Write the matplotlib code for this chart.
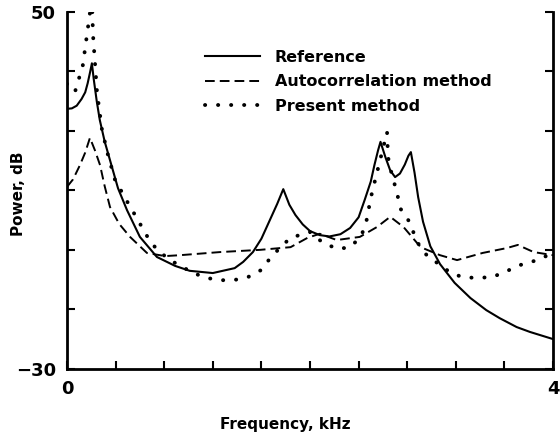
import matplotlib
matplotlib.use("Agg")
import matplotlib.pyplot as plt
import numpy as np

# Reference spectrum (solid)
ref_f = [0.0, 0.04, 0.08, 0.12, 0.15, 0.17, 0.19, 0.205, 0.22, 0.245, 0.27, 0.31, 0.354, 0.42,
         0.494, 0.60, 0.74, 0.89, 1.01, 1.20, 1.38, 1.45, 1.53, 1.60, 1.67, 1.73, 1.78,
         1.83, 1.88, 1.94, 2.0, 2.08, 2.16, 2.25, 2.33, 2.40, 2.45, 2.50, 2.53, 2.56, 2.58,
         2.62, 2.66, 2.70, 2.74, 2.78, 2.81, 2.83, 2.86, 2.89, 2.93, 2.99, 3.07, 3.19, 3.32,
         3.45, 3.56, 3.70, 3.81, 4.0]
ref_db = [28.3, 28.4, 29.0, 30.5, 32.0, 34.0, 36.5, 38.5, 35.0, 30.0, 25.8, 21.0, 16.8, 10.5,
          5.6, -0.4, -4.9, -6.9, -8.0, -8.5, -7.4, -6.0, -3.8, -0.8, 3.4, 7.0, 10.3,
          6.8, 4.5, 2.4, 0.9, 0.0, -0.3, 0.2, 1.6, 4.0, 7.9, 12.0, 15.7, 19.0, 20.9,
          17.5, 14.5, 13.0, 13.8, 15.8, 17.8, 18.6, 14.0, 8.5, 3.0, -2.5, -6.5, -10.7, -14.1,
          -16.8, -18.6, -20.6, -21.7, -23.3]

# Autocorrelation method (dashed)
ac_f = [0.0, 0.05, 0.107, 0.15, 0.189, 0.23, 0.272, 0.31, 0.354, 0.43, 0.519, 0.658, 0.807,
        0.93, 1.26, 1.59, 1.84, 1.98, 2.08, 2.22, 2.41, 2.55, 2.66, 2.77, 2.91, 3.07, 3.21,
        3.42, 3.62, 3.71, 3.84, 4.0]
ac_db = [10.8, 12.5, 15.7, 18.5, 21.8, 19.0, 15.7, 11.0, 6.3, 2.5, -0.4, -4.0, -4.7,
         -4.5, -3.8, -3.3, -2.7, -0.6, 0.3, -1.1, -0.4, 1.8, 4.1, 1.8, -2.7, -4.5, -5.6,
         -4.0, -2.9, -2.2, -3.8, -4.5]

# Present method (dotted)
pm_f = [0.0, 0.066, 0.13, 0.17, 0.205, 0.214, 0.247, 0.288, 0.337, 0.395, 0.502, 0.56, 0.667,
        0.741, 0.848, 1.04, 1.15, 1.26, 1.37, 1.49, 1.60, 1.66, 1.75, 1.84, 2.0, 2.11, 2.23,
        2.33, 2.41, 2.45, 2.48, 2.49, 2.52, 2.634, 2.642, 2.66, 2.68, 2.72, 2.74, 2.82, 2.88,
        2.96, 3.07, 3.15, 3.25, 3.37, 3.50, 3.60, 3.73, 3.87, 4.0]
pm_db = [33.9, 32.1, 38.0, 46.0, 53.0, 45.0, 32.1, 23.6, 18.0, 12.4, 7.2, 4.5, -0.6,
         -3.3, -5.6, -8.5, -9.6, -10.1, -10.1, -9.4, -7.8, -5.6, -2.9, -0.6, 0.7, -1.8, -3.1,
         -2.7, -0.6, 1.6, 5.0, 7.2, 10.6, 23.1, 17.5, 15.0, 13.0, 9.0, 6.1, 2.9, -1.5,
         -4.5, -6.7, -8.3, -9.4, -9.6, -9.4, -8.3, -6.7, -5.6, -4.0]

labels = ["Reference", "Autocorrelation method", "Present method"]
xticks = np.linspace(0, 4, 11)
yticks = np.linspace(-30, 50, 7)
xticklabels = ["0"] + [""] * 9 + ["4"]
yticklabels = ["\u221230"] + [""] * 5 + ["50"]

plt.rcParams['font.family'] = ['DejaVu Sans']
fig = plt.figure(figsize=(5.6, 4.36), dpi=100)
ax = fig.add_axes([0.1196, 0.1537, 0.868, 0.8188])

ax.plot(ref_f, ref_db, color='black', lw=1.5, label=labels[0])
ax.plot(ac_f, ac_db, color='black', lw=1.4, dashes=(5, 2.6), label=labels[1])
ax.plot(pm_f, pm_db, color='black', lw=2.8, dashes=(0.05, 3.3), dash_capstyle='round',
        label=labels[2])

ax.set_xlim(0, 4)
ax.set_ylim(-30, 50)
ax.set_xticks(xticks)
ax.set_xticklabels(xticklabels)
ax.set_yticks(yticks)
ax.set_yticklabels(yticklabels)
ax.tick_params(direction='in', length=6, width=1.5, labelsize=13, right=True, top=False,
               pad=8)
for lab in ax.get_xticklabels() + ax.get_yticklabels():
    lab.set_fontweight('bold')

ax.spines['top'].set_visible(False)
for s in ['left', 'right', 'bottom']:
    ax.spines[s].set_linewidth(2)

ax.set_xlabel("Frequency, kHz", fontsize=11, fontweight='bold')
ax.set_ylabel("Power, dB", fontsize=11, fontweight='bold')
ax.xaxis.set_label_coords(0.45, -0.135)
ax.yaxis.set_label_coords(-0.085, 0.49)

leg = ax.legend(loc='upper left', bbox_to_anchor=(0.255, 0.935), frameon=False,
                handlelength=3.4, handletextpad=0.95, labelspacing=0.6,
                prop={'size': 11.5, 'weight': 'bold'})

fig.savefig("out.png", dpi=100)
